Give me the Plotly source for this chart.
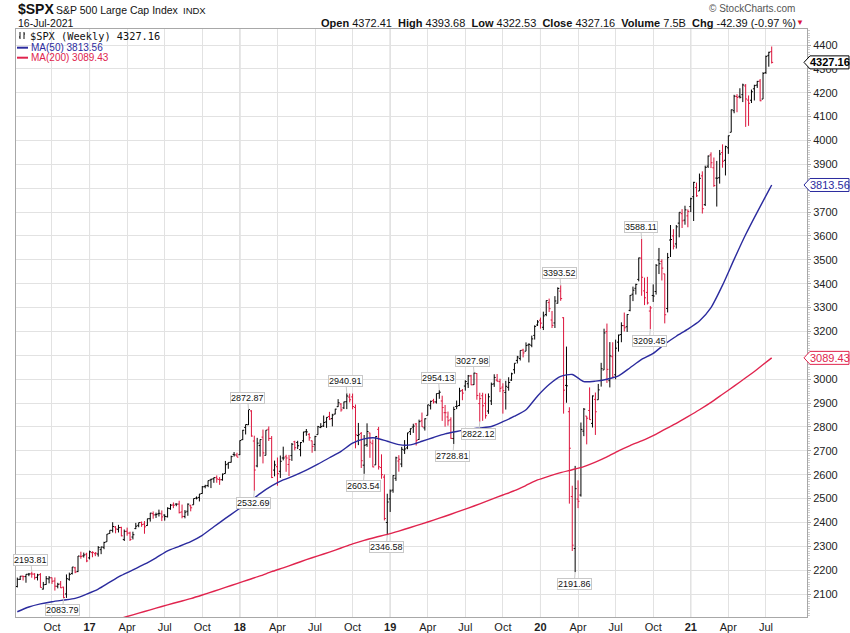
import pandas as pd
import plotly.graph_objects as go

# ---------------- data (weekly $SPX bars, 15-Jul-2016 .. 16-Jul-2021) ----------------
dates = pd.date_range("2016-07-15", "2021-07-16", freq="W-FRI")

opens = [
    # 2016
    2131.7, 2162.0, 2175.0, 2173.2, 2183.1, 2185.0, 2183.7, 2170.2, 2181.6, 2120.9, 2140.0, 2163.4, 2168.3,
    2155.0, 2132.6, 2142.0, 2129.0, 2100.6, 2162.2, 2186.4, 2210.2, 2194.3, 2258.0, 2260.0, 2267.0,
    # 2017
    2251.6, 2273.6, 2269.1, 2267.8, 2286.0, 2295.9, 2319.2, 2354.0, 2366.7, 2381.0, 2371.6, 2379.0, 2329.0,
    2363.0, 2355.5, 2339.0, 2374.2, 2388.0, 2400.0, 2393.0, 2387.0, 2415.6, 2437.0, 2432.0, 2437.0, 2436.0,
    2431.0, 2424.0, 2458.0, 2473.0, 2477.0, 2477.0, 2444.0, 2425.0, 2447.0, 2470.0, 2474.0, 2502.0, 2505.0,
    2521.2, 2550.0, 2555.0, 2578.0, 2583.0, 2588.0, 2580.0, 2579.0, 2605.0, 2645.0, 2652.0, 2685.0, 2682.0,
    # 2018
    2683.7, 2747.0, 2798.0, 2809.2, 2867.2, 2741.1, 2636.8, 2722.0, 2757.4, 2681.1, 2790.2, 2752.0, 2619.4,
    2633.5, 2614.4, 2670.1, 2675.0, 2643.0, 2680.0, 2738.0, 2735.0, 2705.0, 2742.0, 2780.0, 2769.0, 2742.0,
    2727.0, 2768.0, 2798.0, 2804.0, 2821.0, 2844.0, 2835.0, 2854.0, 2885.0, 2896.0, 2880.0, 2906.0, 2925.0,
    2926.0, 2882.0, 2764.0, 2773.0, 2640.0, 2726.0, 2775.0, 2730.0, 2641.0, 2790.0, 2630.0, 2590.0, 2400.0,
    # 2019
    2498.9, 2535.6, 2585.1, 2657.4, 2644.9, 2703.1, 2712.4, 2780.7, 2799.8, 2812.7, 2747.6, 2826.0, 2796.0,
    2848.6, 2889.2, 2910.0, 2904.8, 2941.0, 2908.9, 2859.8, 2841.9, 2830.0, 2751.5, 2885.8, 2889.8, 2952.0,
    2971.4, 2981.0, 3014.0, 2977.0, 3024.0, 2898.0, 2930.9, 2898.9, 2866.7, 2909.0, 2980.3, 2996.4, 2990.0,
    2967.1, 2944.2, 2965.8, 2996.5, 3039.7, 3078.9, 3087.0, 3122.0, 3117.4, 3143.9, 3141.9, 3183.6, 3227.2,
    # 2020
    3247.2, 3217.6, 3271.1, 3321.0, 3248.0, 3235.7, 3318.3, 3369.0, 3257.6, 2974.3, 2863.9, 2508.6, 2290.7,
    2498.1, 2514.9, 2782.5, 2845.6, 2869.1, 2815.0, 2915.5, 2913.9, 2995.0, 3038.8, 3199.9, 2993.8, 3094.4,
    3018.6, 3155.3, 3187.0, 3224.3, 3219.8, 3288.3, 3356.0, 3380.9, 3418.1, 3507.4, 3370.0, 3363.6, 3285.6,
    3350.9, 3367.3, 3500.0, 3493.5, 3441.4, 3296.2, 3583.0, 3600.2, 3566.8, 3653.8, 3693.4, 3666.4, 3684.3,
    3723.0,
    # 2021
    3764.6, 3803.1, 3788.4, 3851.7, 3731.2, 3892.6, 3939.6, 3885.6, 3842.5, 3844.4, 3949.6, 3917.1, 3969.3,
    4034.4, 4124.7, 4184.3, 4185.1, 4191.9, 4228.3, 4169.1, 4168.6, 4216.5, 4232.0, 4248.9, 4173.4, 4284.9,
    4356.5, 4372.41,
]
highs = [
    2169.1, 2175.6, 2177.1, 2182.9, 2188.5, 2193.81, 2187.9, 2184.9, 2187.9, 2150.8, 2175.3, 2175.3, 2169.6,
    2169.6, 2147.2, 2154.8, 2131.0, 2182.3, 2189.9, 2213.4, 2214.1, 2259.5, 2277.5, 2273.8, 2273.0,
    2282.1, 2279.3, 2276.2, 2301.0, 2298.3, 2319.2, 2351.3, 2367.3, 2401.0, 2385.0, 2390.0, 2382.0, 2370.4,
    2378.4, 2361.4, 2361.4, 2398.2, 2399.3, 2403.9, 2405.8, 2415.8, 2440.2, 2446.2, 2441.0, 2453.8, 2450.4,
    2434.0, 2463.5, 2477.6, 2484.0, 2480.0, 2490.9, 2474.9, 2452.0, 2480.0, 2474.5, 2500.2, 2508.9, 2519.4,
    2552.5, 2557.7, 2575.4, 2583.0, 2588.4, 2597.0, 2590.0, 2605.0, 2657.7, 2651.7, 2679.6, 2695.0, 2692.1,
    2743.5, 2787.9, 2810.3, 2872.87, 2870.1, 2763.4, 2754.4, 2747.8, 2789.2, 2786.6, 2801.9, 2761.9, 2659.1,
    2672.1, 2680.3, 2717.5, 2683.6, 2682.9, 2732.9, 2742.2, 2742.2, 2736.9, 2779.9, 2791.5, 2774.0, 2743.0,
    2763.0, 2804.5, 2816.0, 2848.0, 2841.0, 2863.4, 2855.0, 2876.2, 2916.5, 2900.0, 2906.0, 2940.91, 2939.9,
    2939.9, 2894.0, 2816.9, 2778.9, 2766.3, 2815.2, 2776.0, 2746.8, 2760.9, 2800.2, 2685.4, 2601.1, 2520.3,
    2538.1, 2597.8, 2675.5, 2681.8, 2716.7, 2745.0, 2775.7, 2794.2, 2813.5, 2816.9, 2830.7, 2860.3, 2836.0,
    2893.2, 2910.5, 2918.0, 2939.9, 2954.13, 2931.0, 2892.2, 2864.4, 2840.5, 2884.8, 2910.6, 2964.2, 2959.0,
    2995.8, 3017.8, 3018.3, 3027.98, 3025.6, 2943.3, 2943.3, 2939.1, 2940.4, 2985.9, 3020.7, 3022.0, 3002.0,
    2983.0, 2993.3, 3008.3, 3027.4, 3067.0, 3097.8, 3120.5, 3127.6, 3154.3, 3150.6, 3182.7, 3225.7, 3247.9,
    3258.1, 3283.0, 3329.9, 3337.8, 3285.9, 3348.0, 3385.1, 3393.52, 3259.8, 3136.7, 2882.6, 2553.9, 2637.0,
    2576.5, 2818.6, 2879.2, 2845.6, 2965.7, 2932.2, 2944.3, 2980.3, 3068.7, 3211.7, 3233.1, 3155.5, 3154.9,
    3165.8, 3186.8, 3238.3, 3279.3, 3272.2, 3352.5, 3387.9, 3400.0, 3509.4, 3588.11, 3425.6, 3428.9, 3306.9,
    3397.2, 3482.3, 3549.9, 3502.4, 3441.4, 3529.0, 3646.0, 3628.5, 3645.9, 3699.2, 3712.4, 3726.7, 3711.2,
    3760.2,
    3826.7, 3823.6, 3861.5, 3870.9, 3894.6, 3937.2, 3950.4, 3928.7, 3914.5, 3960.3, 3983.9, 3978.2, 4020.6,
    4129.5, 4191.3, 4194.2, 4218.8, 4238.0, 4236.4, 4188.7, 4213.4, 4233.5, 4249.7, 4257.2, 4286.1, 4355.5,
    4371.6, 4393.68,
]
lows = [
    2127.8, 2159.0, 2157.1, 2147.6, 2175.0, 2168.5, 2160.4, 2157.1, 2127.8, 2119.1, 2139.0, 2145.0, 2142.6,
    2114.7, 2124.0, 2125.0, 2083.79, 2084.0, 2156.1, 2182.0, 2187.4, 2192.0, 2248.0, 2253.0, 2233.6,
    2245.1, 2254.3, 2258.8, 2257.0, 2267.2, 2288.0, 2319.2, 2352.9, 2358.0, 2354.5, 2358.0, 2341.9, 2322.3,
    2344.5, 2322.3, 2328.9, 2372.0, 2380.0, 2381.7, 2352.7, 2386.0, 2403.6, 2415.7, 2419.0, 2425.0, 2405.7,
    2407.7, 2421.0, 2453.0, 2459.9, 2468.0, 2437.8, 2417.4, 2417.4, 2428.0, 2446.6, 2474.0, 2496.7, 2488.0,
    2520.4, 2543.0, 2547.9, 2544.0, 2566.0, 2566.3, 2557.5, 2575.0, 2605.0, 2624.8, 2651.0, 2676.0, 2673.6,
    2682.4, 2745.0, 2768.6, 2808.1, 2759.1, 2532.69, 2631.1, 2675.8, 2647.3, 2681.1, 2741.4, 2585.9, 2593.1,
    2553.8, 2586.5, 2660.0, 2612.2, 2594.6, 2658.0, 2701.9, 2707.4, 2676.8, 2735.0, 2763.0, 2742.3, 2692.0,
    2699.0, 2768.0, 2795.0, 2800.0, 2796.3, 2828.9, 2802.5, 2853.0, 2884.0, 2864.1, 2875.0, 2874.7, 2903.0,
    2874.0, 2710.5, 2724.0, 2628.2, 2603.54, 2717.0, 2670.8, 2631.1, 2641.0, 2621.5, 2583.2, 2408.6, 2346.58,
    2444.0, 2524.6, 2574.1, 2612.7, 2631.6, 2687.0, 2706.8, 2766.3, 2775.1, 2722.3, 2746.0, 2800.7, 2785.0,
    2848.6, 2873.3, 2898.0, 2898.0, 2918.0, 2825.4, 2801.4, 2805.5, 2750.5, 2728.81, 2874.7, 2887.3, 2912.0,
    2952.2, 2963.4, 2975.0, 2976.0, 2914.1, 2822.12, 2825.7, 2834.9, 2855.0, 2891.9, 2968.0, 2990.0, 2946.0,
    2855.9, 2873.0, 2952.0, 2993.0, 3023.2, 3066.0, 3078.3, 3091.4, 3117.4, 3070.3, 3134.0, 3166.1, 3223.0,
    3212.0, 3206.0, 3264.0, 3281.5, 3214.7, 3214.6, 3317.0, 3328.5, 2855.8, 2901.5, 2478.9, 2280.5, 2191.86,
    2460.0, 2508.2, 2761.5, 2727.1, 2830.0, 2797.9, 2766.6, 2913.9, 2969.0, 3038.8, 2984.5, 2965.7, 3004.6,
    2999.7, 3115.7, 3154.9, 3200.0, 3198.0, 3284.5, 3327.2, 3354.7, 3410.0, 3349.6, 3310.5, 3313.0, 3209.45,
    3323.7, 3354.5, 3440.5, 3413.5, 3233.9, 3279.7, 3511.9, 3543.8, 3547.5, 3594.4, 3633.4, 3647.2, 3636.5,
    3700.0,
    3662.7, 3764.0, 3788.4, 3694.1, 3725.6, 3884.9, 3884.5, 3805.6, 3723.3, 3819.3, 3886.0, 3853.5, 3944.0,
    4034.4, 4114.1, 4118.4, 4176.2, 4160.9, 4056.9, 4061.4, 4156.9, 4167.6, 4220.2, 4164.4, 4173.4, 4278.9,
    4309.0, 4322.53,
]
closes = [
    2161.7, 2175.0, 2173.6, 2182.9, 2184.1, 2183.9, 2169.0, 2180.0, 2127.8, 2139.2, 2164.7, 2168.3, 2153.7,
    2133.0, 2141.2, 2126.4, 2085.2, 2164.5, 2181.9, 2213.4, 2192.0, 2259.5, 2258.1, 2263.8, 2238.8,
    2277.0, 2274.6, 2271.3, 2294.7, 2297.4, 2316.1, 2351.2, 2367.3, 2383.1, 2372.6, 2378.3, 2344.0, 2362.7,
    2355.5, 2329.0, 2348.7, 2384.2, 2399.3, 2390.9, 2381.7, 2415.8, 2439.1, 2431.8, 2433.2, 2438.3, 2423.4,
    2425.2, 2459.3, 2472.5, 2472.1, 2476.8, 2441.3, 2425.6, 2443.1, 2476.6, 2461.4, 2500.2, 2502.2, 2519.4,
    2549.3, 2553.2, 2575.2, 2581.1, 2587.8, 2582.3, 2578.9, 2602.4, 2642.2, 2651.5, 2675.8, 2683.3, 2673.6,
    2743.2, 2786.2, 2810.3, 2872.9, 2762.1, 2619.6, 2732.2, 2747.3, 2691.3, 2786.6, 2752.0, 2588.3, 2640.9,
    2604.5, 2656.3, 2670.1, 2669.9, 2663.4, 2727.7, 2713.0, 2721.3, 2734.6, 2779.0, 2779.4, 2754.9, 2718.4,
    2759.8, 2801.3, 2801.8, 2818.8, 2840.4, 2833.3, 2850.1, 2874.7, 2901.5, 2871.7, 2905.0, 2929.7, 2914.0,
    2885.6, 2767.1, 2767.8, 2658.7, 2723.1, 2781.0, 2736.3, 2632.6, 2760.2, 2633.1, 2600.0, 2416.6, 2485.7,
    2531.9, 2596.3, 2670.7, 2664.8, 2706.5, 2707.9, 2775.6, 2792.7, 2803.7, 2743.1, 2822.5, 2800.7, 2834.4,
    2892.7, 2907.4, 2905.0, 2939.9, 2945.6, 2881.4, 2859.5, 2826.1, 2752.1, 2873.3, 2887.0, 2950.5, 2941.8,
    2990.4, 3013.8, 2976.6, 3025.9, 2932.1, 2918.7, 2888.7, 2847.1, 2926.5, 2978.7, 3007.4, 2992.1, 2961.8,
    2952.0, 2970.3, 2986.2, 3022.6, 3066.9, 3093.1, 3120.5, 3110.3, 3141.0, 3145.9, 3168.8, 3221.2, 3240.0,
    3234.9, 3265.4, 3329.6, 3295.5, 3225.5, 3327.7, 3380.2, 3337.8, 2954.2, 2972.4, 2711.0, 2304.9, 2541.5,
    2488.7, 2789.8, 2874.6, 2836.7, 2830.7, 2929.8, 2863.7, 2955.5, 3044.3, 3193.9, 3041.3, 3097.7, 3009.1,
    3130.0, 3185.0, 3224.7, 3215.6, 3271.1, 3351.3, 3372.9, 3397.2, 3508.0, 3427.0, 3341.0, 3319.5, 3298.5,
    3348.4, 3477.1, 3483.8, 3465.4, 3270.0, 3509.4, 3585.2, 3557.5, 3638.4, 3699.1, 3663.5, 3709.4, 3703.1,
    3756.1,
    3824.7, 3768.3, 3841.5, 3714.2, 3886.8, 3934.8, 3906.7, 3811.2, 3841.9, 3943.3, 3913.1, 3974.5, 4019.9,
    4128.8, 4185.5, 4180.2, 4181.2, 4232.6, 4173.9, 4155.9, 4204.1, 4229.9, 4247.4, 4166.5, 4280.7, 4352.3,
    4369.6, 4327.16,
]

# moving averages every 4th week (last value = latest week)
ma50_values = [
    2026, 2046, 2059, 2068, 2075, 2082, 2100, 2121, 2150, 2178, 2201, 2225, 2252, 2281, 2300, 2320, 2346,
    2382, 2417, 2451, 2484, 2521, 2553, 2578, 2597, 2619, 2644, 2671, 2698, 2732, 2750, 2754, 2740, 2726,
    2725, 2740, 2756, 2771, 2781, 2790, 2796, 2802, 2822, 2845, 2872, 2930, 2978, 3012, 3020, 2990, 2992,
    3000, 3014, 3048, 3083, 3108, 3147, 3180, 3210, 3244, 3300, 3394, 3502, 3606, 3700, 3791, 3813.56,
]
ma200_first_week = 28
ma200_values = [
    1971, 1985, 1999, 2013, 2027, 2041, 2055, 2068, 2081, 2096, 2112, 2128, 2144, 2160, 2176, 2194, 2210,
    2227, 2244, 2260, 2276, 2293, 2310, 2325, 2338, 2350, 2364, 2379, 2394, 2410, 2426, 2443, 2460, 2478,
    2497, 2515, 2533, 2555, 2578, 2594, 2609, 2621, 2634, 2653, 2675, 2700, 2722, 2742, 2764, 2790, 2815,
    2843, 2872, 2903, 2937, 2971, 3006, 3042, 3080, 3089.43,
]

# labelled highs / lows (week index, side)
callout_weeks = [5, 16, 80, 82, 114, 120, 128, 146, 151, 158, 160, 188, 193, 216, 219]
callout_sides = ["hi", "lo", "hi", "lo", "hi", "lo", "lo", "hi", "lo", "hi", "lo", "hi", "lo", "hi", "lo"]

y_ticks = list(range(2100, 4401, 100))

# ---------------- layout geometry ----------------
W, H = 850, 633
L, R, T, B = 16, 807, 29, 617
Y0, Y1 = 2004, 4467
day_per_px = 7 / 2.89


def px(x):
    return (x - L) / (R - L)


def py(y):
    return (B - y) / (B - T)


def vy(v):  # value -> pixel y
    return T + (Y1 - v) / (Y1 - Y0) * (B - T)


UP = "#000000"
DN = "#dc143c"
BLUE = "#2b2b9e"
RED2 = "#e0244e"
FONT = "Liberation Sans, Arial, sans-serif"

n = len(dates)
up = [i for i in range(n) if i == 0 or closes[i] >= closes[i - 1]]
dn = [i for i in range(n) if not (i == 0 or closes[i] >= closes[i - 1])]

fig = go.Figure()
for idx, col in ((up, UP), (dn, DN)):
    fig.add_trace(go.Ohlc(
        x=[dates[i] for i in idx],
        open=[opens[i] for i in idx], high=[highs[i] for i in idx],
        low=[lows[i] for i in idx], close=[closes[i] for i in idx],
        increasing=dict(line=dict(color=col, width=1)),
        decreasing=dict(line=dict(color=col, width=1)),
        tickwidth=0.5, hoverinfo="skip", showlegend=False))

ma50_idx = list(range(0, n, 4)) + [n - 1]
fig.add_trace(go.Scatter(x=[dates[i] for i in ma50_idx], y=ma50_values, mode="lines",
                         line=dict(color=BLUE, width=1.4, shape="spline", smoothing=0.6),
                         hoverinfo="skip", showlegend=False))
ma200_idx = list(range(ma200_first_week, n, 4)) + [n - 1]
fig.add_trace(go.Scatter(x=[dates[i] for i in ma200_idx], y=ma200_values, mode="lines",
                         line=dict(color=RED2, width=1.4, shape="spline", smoothing=0.6),
                         hoverinfo="skip", showlegend=False))

# x ticks: first week of each quarter
tickvals, ticktext = [], []
for d in dates:
    if d.month in (1, 4, 7, 10) and d.day <= 7:
        tickvals.append(d)
        ticktext.append("<b>%s</b>" % d.strftime("%y") if d.month == 1 else d.strftime("%b"))

shapes = []
for d in tickvals:
    if d.month == 1:
        shapes.append(dict(type="line", xref="x", yref="paper", x0=d, x1=d, y0=0, y1=1,
                           line=dict(color="#c0c0c0", width=1), layer="below"))

annotations = []
# callouts
for i, side in zip(callout_weeks, callout_sides):
    v = highs[i] if side == "hi" else lows[i]
    annotations.append(dict(
        x=dates[i], y=v, xref="x", yref="y", text="%.2f" % v,
        showarrow=True, arrowhead=0, arrowwidth=1, arrowcolor="#c8c8c8",
        ax=-1, ay=-12 if side == "hi" else 12,
        font=dict(family=FONT, size=9, color="#111"),
        bgcolor="white", bordercolor="#c8c8c8", borderwidth=1, borderpad=0))

# right side value tags
tags = [(closes[-1], "#000000", True), (ma50_values[-1], BLUE, False), (ma200_values[-1], RED2, False)]
for v, col, bold in tags:
    yc = vy(v)
    hh = 6.5
    path = "M %f,%f L %f,%f L %f,%f L %f,%f L %f,%f Z" % (
        px(804), py(yc), px(810), py(yc - hh), px(849), py(yc - hh), px(849), py(yc + hh), px(810), py(yc + hh))
    shapes.append(dict(type="path", xref="paper", yref="paper", path=path,
                       fillcolor="white", line=dict(color=col, width=1), layer="above"))
    txt = "%.2f" % v
    annotations.append(dict(x=px(829.5), y=py(yc), xref="paper", yref="paper", showarrow=False,
                            text="<b>%s</b>" % txt if bold else txt,
                            font=dict(family=FONT, size=11, color=col), xanchor="center", yanchor="middle"))

# header
sp = "&nbsp;&nbsp;"
annotations += [
    dict(x=px(16), y=py(9.5), xref="paper", yref="paper", showarrow=False, xanchor="left", yanchor="middle",
         text="<b>$SPX</b>", font=dict(family=FONT, size=14, color="#111")),
    dict(x=px(54), y=py(10), xref="paper", yref="paper", showarrow=False, xanchor="left", yanchor="middle",
         text="S&P 500 Large Cap Index", font=dict(family=FONT, size=10.5, color="#111")),
    dict(x=px(181), y=py(10), xref="paper", yref="paper", showarrow=False, xanchor="left", yanchor="middle",
         text="INDX", font=dict(family=FONT, size=9.5, color="#111")),
    dict(x=px(16), y=py(22.5), xref="paper", yref="paper", showarrow=False, xanchor="left", yanchor="middle",
         text="16-Jul-2021", font=dict(family=FONT, size=10.5, color="#111")),
    dict(x=px(797), y=py(9), xref="paper", yref="paper", showarrow=False, xanchor="right", yanchor="middle",
         text="© StockCharts.com", font=dict(family=FONT, size=10, color="#555")),
    dict(x=px(798), y=py(22.5), xref="paper", yref="paper", showarrow=False, xanchor="right", yanchor="middle",
         text="<b>Open</b> 4372.41" + sp + "<b>High</b> 4393.68" + sp + "<b>Low</b> 4322.53" + sp +
              "<b>Close</b> 4327.16" + sp + "<b>Volume</b> 7.5B" + sp + "<b>Chg</b> -42.39 (-0.97 %)",
         font=dict(family=FONT, size=11, color="#111")),
    dict(x=px(806), y=py(22), xref="paper", yref="paper", showarrow=False, xanchor="right", yanchor="middle",
         text="▼", font=dict(family=FONT, size=8, color=DN)),
    # legend
    dict(x=px(28), y=py(35.5), xref="paper", yref="paper", showarrow=False, xanchor="left", yanchor="middle",
         text="$SPX (Weekly) 4327.16", font=dict(family="DejaVu Sans Mono, monospace", size=10.3, color="#111")),
    dict(x=px(29), y=py(47.7), xref="paper", yref="paper", showarrow=False, xanchor="left", yanchor="middle",
         text="MA(50) 3813.56", font=dict(family=FONT, size=10, color=BLUE)),
    dict(x=px(29), y=py(57.7), xref="paper", yref="paper", showarrow=False, xanchor="left", yanchor="middle",
         text="MA(200) 3089.43", font=dict(family=FONT, size=10, color=RED2)),
]
# legend swatches and tiny OHLC icon
shapes += [
    dict(type="line", xref="paper", yref="paper", x0=px(17), x1=px(28), y0=py(47.7), y1=py(47.7),
         line=dict(color=BLUE, width=2)),
    dict(type="line", xref="paper", yref="paper", x0=px(17), x1=px(28), y0=py(57.7), y1=py(57.7),
         line=dict(color=RED2, width=2)),
    dict(type="path", xref="paper", yref="paper",
         path="M %f,%f L %f,%f M %f,%f L %f,%f M %f,%f L %f,%f M %f,%f L %f,%f" % (
             px(20), py(32), px(20), py(39), px(19), py(37), px(20), py(37),
             px(24), py(32), px(24), py(39), px(24), py(34), px(25), py(34)),
         line=dict(color="#111", width=1)),
]

fig.update_layout(
    template="none",
    width=W, height=H, margin=dict(l=L, r=W - R, t=T, b=H - B, pad=0), autosize=False,
    paper_bgcolor="white", plot_bgcolor="white", showlegend=False,
    shapes=shapes, annotations=annotations,
    xaxis=dict(type="date", automargin=False,
               range=[dates[0] - pd.Timedelta(days=1.3 * day_per_px),
                      dates[-1] + pd.Timedelta(days=35.3 * day_per_px)],
               tickvals=tickvals, ticktext=ticktext, showgrid=True, gridcolor="#e2e2e2", gridwidth=1,
               showline=True, linecolor="#a8a8a8", linewidth=1, mirror=True, ticks="", zeroline=False,
               tickfont=dict(family=FONT, size=11, color="#222"), rangeslider=dict(visible=False)),
    yaxis=dict(range=[Y0, Y1], side="right", automargin=False, tickvals=y_ticks, showgrid=True,
               gridcolor="#e2e2e2", gridwidth=1,
               showline=True, linecolor="#a8a8a8", linewidth=1, mirror=True, ticks="outside", ticklen=3,
               tickcolor="#a8a8a8", zeroline=False,
               tickfont=dict(family=FONT, size=11, color="#222"),
               minor=dict(dtick=10, ticks="outside", ticklen=2, tickcolor="#cfcfcf", showgrid=False)),
)

fig.write_html("out.html", config={"displayModeBar": False},
               post_script="document.body.style.margin='0px';document.body.style.padding='0px';"
                           "document.body.style.overflow='hidden';")
